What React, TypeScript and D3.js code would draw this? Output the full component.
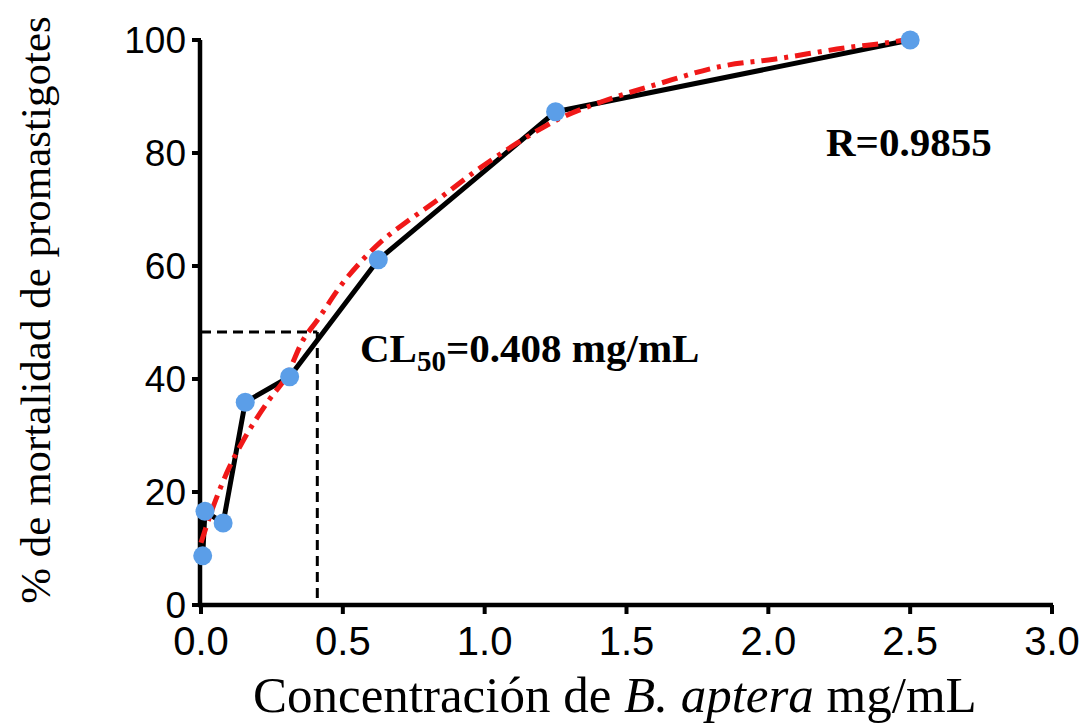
import React from "react";
import * as d3 from "d3";

// Observed data (concentration mg/mL vs % mortality)
const concentrations = [0.006, 0.014, 0.078, 0.156, 0.3125, 0.625, 1.25, 2.5];
const mortality = [8.7, 16.6, 14.5, 35.9, 40.4, 61.1, 87.3, 100];

// Fitted curve
const fitX = [0, 0.04, 0.1, 0.15, 0.24, 0.3, 0.36, 0.41, 0.5, 0.57, 0.63, 0.73, 0.82, 0.96, 1.11, 1.26, 1.42, 1.61, 1.84, 2.02, 2.27, 2.43, 2.48];
const fitY = [11, 17, 24.4, 29.2, 36.3, 40.4, 46.9, 50.4, 57, 61.1, 64.1, 68, 71.2, 76.5, 81.6, 86.0, 89.2, 92.2, 95.4, 96.6, 98.6, 99.6, 100];

// CL50 guide
const cl50X = 0.41;
const cl50Y = 48.3;

const xTicks = [0, 0.5, 1.0, 1.5, 2.0, 2.5, 3.0];
const yTicks = [0, 20, 40, 60, 80, 100];

export default function App() {
  const W = 1083;
  const H = 723;
  const x = d3.scaleLinear().domain([0, 3]).range([201, 1052]);
  const y = d3.scaleLinear().domain([0, 100]).range([605, 40]);

  const pts = concentrations.map((c, i) => [c, mortality[i]] as [number, number]);
  const fit = fitX.map((c, i) => [c, fitY[i]] as [number, number]);

  const lineGen = d3
    .line<[number, number]>()
    .x((d) => x(d[0]))
    .y((d) => y(d[1]));
  const fitGen = d3
    .line<[number, number]>()
    .x((d) => x(d[0]))
    .y((d) => y(d[1]))
    .curve(d3.curveMonotoneX);

  const sans = "'Liberation Sans', Arial, sans-serif";
  const serif = "'Liberation Serif', 'Times New Roman', serif";

  return (
    <svg
      width={W}
      height={H}
      style={{ position: "absolute", left: 0, top: 0, background: "#fff" }}
    >
      <rect x={0} y={0} width={W} height={H} fill="#fff" />
      {/* CL50 dashed guides */}
      <line
        x1={x(0)}
        x2={x(cl50X)}
        y1={y(cl50Y)}
        y2={y(cl50Y)}
        stroke="#000"
        strokeWidth={3}
        strokeDasharray="10 6"
      />
      <line
        x1={x(cl50X)}
        x2={x(cl50X)}
        y1={y(cl50Y)}
        y2={y(0)}
        stroke="#000"
        strokeWidth={3}
        strokeDasharray="10 6"
      />

      {/* Axes */}
      <line x1={x(0) - 1} x2={x(0) - 1} y1={y(100)} y2={y(0) + 2} stroke="#000" strokeWidth={4.5} />
      <line x1={x(0) - 3} x2={x(3) + 1} y1={y(0)} y2={y(0)} stroke="#000" strokeWidth={4.5} />
      {yTicks.map((t) => (
        <g key={"yt" + t}>
          <line x1={x(0) - 9} x2={x(0)} y1={y(t)} y2={y(t)} stroke="#000" strokeWidth={4} />
          <text
            x={186}
            y={y(t)}
            dy="0.36em"
            textAnchor="end"
            fontFamily={sans}
            fontSize={37}
            fill="#000"
          >
            {t}
          </text>
        </g>
      ))}
      {xTicks.map((t) => (
        <g key={"xt" + t}>
          <line x1={x(t)} x2={x(t)} y1={y(0)} y2={y(0) + 9} stroke="#000" strokeWidth={4} />
          <text
            x={x(t)}
            y={655}
            textAnchor="middle"
            fontFamily={sans}
            fontSize={40}
            fill="#000"
          >
            {t.toFixed(1)}
          </text>
        </g>
      ))}

      {/* Data line */}
      <path d={lineGen(pts) || ""} fill="none" stroke="#000" strokeWidth={5} strokeLinejoin="round" />
      {/* Fit curve */}
      <path
        d={fitGen(fit) || ""}
        fill="none"
        stroke="#f01818"
        strokeWidth={5}
        strokeDasharray="16 7 4 7"
      />
      {/* Points */}
      {pts.map((p, i) => (
        <circle key={"p" + i} cx={x(p[0])} cy={y(p[1])} r={9.5} fill="#5b9ee8" />
      ))}

      {/* Annotations */}
      <text x={826} y={156} fontFamily={serif} fontWeight="bold" fontSize={41} fill="#000">
        R=0.9855
      </text>
      <text x={360} y={362} fontFamily={serif} fontWeight="bold" fontSize={41} fill="#000">
        CL
        <tspan fontSize={29} dy={9}>50</tspan>
        <tspan dy={-9}>=0.408 mg/mL</tspan>
      </text>

      {/* Axis titles */}
      <text x={253} y={712} fontFamily={serif} fontSize={51} fill="#000">
        Concentración de <tspan fontStyle="italic">B. aptera</tspan> mg/mL
      </text>
      <text
        transform="translate(50,310) rotate(-90)"
        textAnchor="middle"
        fontFamily={serif}
        fontSize={43}
        fill="#000"
      >
        % de mortalidad de promastigotes
      </text>
    </svg>
  );
}
